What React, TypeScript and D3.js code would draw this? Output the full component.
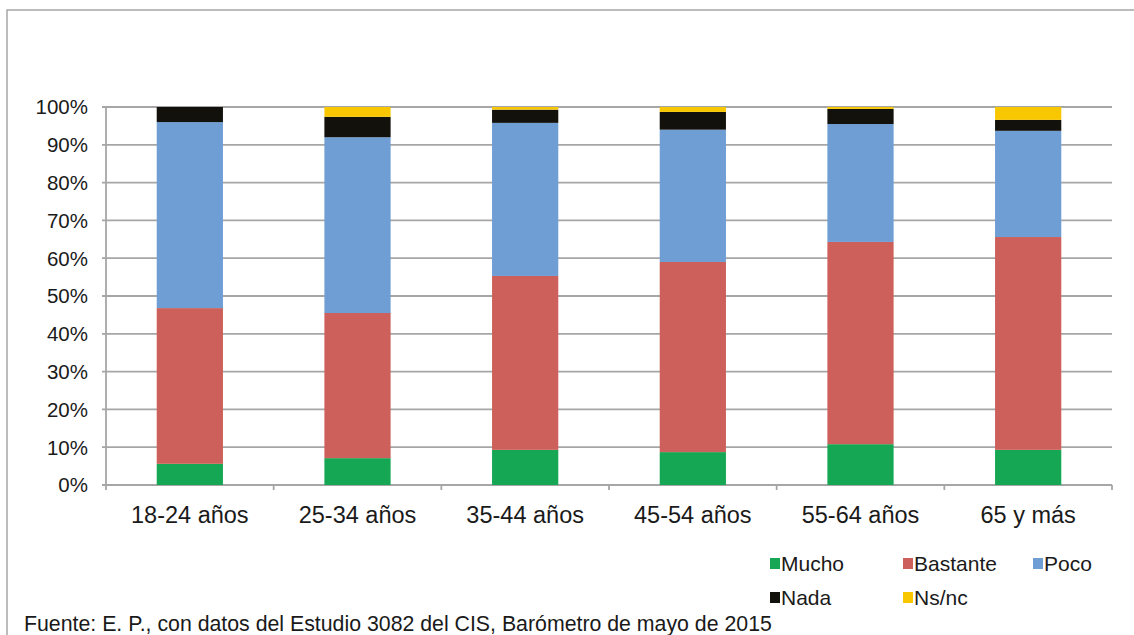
import * as d3 from "d3";

const categories = ["18-24 años", "25-34 años", "35-44 años", "45-54 años", "55-64 años", "65 y más"];
const seriesNames = ["Mucho", "Bastante", "Poco", "Nada", "Ns/nc"];
const mucho = [5.6, 7.1, 9.3, 8.7, 10.8, 9.3];
const bastante = [41.2, 38.4, 46.0, 50.3, 53.5, 56.3];
const poco = [49.2, 46.5, 40.5, 35.0, 31.2, 28.1];
const nada = [4.0, 5.4, 3.5, 4.7, 4.0, 2.9];
const nsnc = [0.0, 2.6, 0.7, 1.3, 0.5, 3.4];
const yTicks = [0, 10, 20, 30, 40, 50, 60, 70, 80, 90, 100];
const source = "Fuente: E. P., con datos del Estudio 3082 del CIS, Barómetro de mayo de 2015";

const colors = ["#16a754", "#cd605a", "#6f9ed4", "#12110c", "#f9c700"];

export default function App({
  width = 1134,
  height = 635,
  marginTop = 107,
  marginLeft = 106,
  plotRight = 1112,
  plotBottom = 485,
}) {
  const rows = categories.map((c, i) => ({
    cat: c,
    Mucho: mucho[i],
    Bastante: bastante[i],
    Poco: poco[i],
    Nada: nada[i],
    "Ns/nc": nsnc[i],
  }));
  const stacked = d3.stack<any>().keys(seriesNames)(rows);

  const x = d3.scaleBand(categories, [marginLeft, plotRight]).padding(0);
  const y = d3.scaleLinear([0, 100], [plotBottom, marginTop]);
  const barW = x.bandwidth() * 0.395;
  const font = "'Liberation Sans', Arial, sans-serif";

  // legend layout: two rows, three columns
  const legendCols = [770, 903, 1033];
  const legendRows = [564, 598];

  return (
    <svg
      width={width}
      height={height}
      style={{ position: "fixed", left: 0, top: 0 }}
      fontFamily={font}
    >
      <rect width={width} height={height} fill="white" />
      {/* outer frame, cut at the right and bottom */}
      <path d={`M7,${height}V10H${width}`} fill="none" stroke="#a6a6a6" strokeWidth="1.5" />

      {/* gridlines + y labels */}
      {yTicks.map((t) => (
        <g key={t}>
          <line x1={marginLeft - 4} x2={plotRight} y1={y(t)} y2={y(t)} stroke="#a6a6a6" strokeWidth="1.8" />
          <text x={88} y={y(t)} dy="0.36em" textAnchor="end" fontSize="20.5" fill="#1a1a1a">
            {t}%
          </text>
        </g>
      ))}
      <line x1={marginLeft} x2={marginLeft} y1={marginTop} y2={plotBottom} stroke="#a6a6a6" strokeWidth="1.8" />

      {/* x ticks */}
      {[...categories.map((c) => x(c) as number), plotRight].map((v, i) => (
        <line key={i} x1={v} x2={v} y1={plotBottom} y2={plotBottom + 5} stroke="#a6a6a6" strokeWidth="1.8" />
      ))}

      {/* bars */}
      {stacked.map((s, si) => (
        <g key={s.key} fill={colors[si]}>
          {s.map((d, i) => (
            <rect
              key={i}
              x={(x(categories[i]) as number) + (x.bandwidth() - barW) / 2}
              y={y(d[1])}
              width={barW}
              height={Math.max(0, y(d[0]) - y(d[1]))}
            />
          ))}
        </g>
      ))}

      {/* category labels */}
      {categories.map((c) => (
        <text
          key={c}
          x={(x(c) as number) + x.bandwidth() / 2}
          y={523}
          textAnchor="middle"
          fontSize="23.5"
          fill="#1a1a1a"
        >
          {c}
        </text>
      ))}

      {/* legend */}
      {seriesNames.map((n, i) => {
        const lx = legendCols[i % 3];
        const ly = legendRows[Math.floor(i / 3)];
        return (
          <g key={n}>
            <rect x={lx} y={ly - 6} width={10} height={11} fill={colors[i]} />
            <text x={lx + 11} y={ly + 7} fontSize="21" fill="#1a1a1a">
              {n}
            </text>
          </g>
        );
      })}

      <text x={24} y={631} fontSize="21.3" fill="#1a1a1a">
        {source}
      </text>
    </svg>
  );
}
